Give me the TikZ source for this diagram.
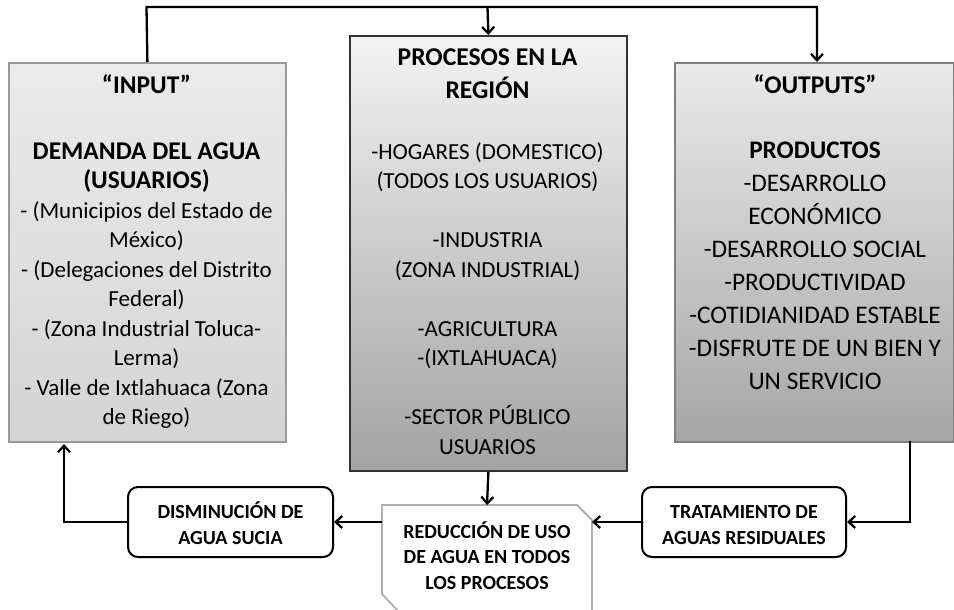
\documentclass[tikz,border=0pt]{standalone}
\usepackage{fontspec}
\setmainfont{Carlito}
\usetikzlibrary{arrows.meta,shadows}
\definecolor{lfillT}{HTML}{EBEBEB}
\definecolor{lfillB}{HTML}{D4D4D4}
\definecolor{lline}{HTML}{9A9A9A}
\definecolor{mfillT}{HTML}{F3F3F3}
\definecolor{mfillB}{HTML}{A3A3A3}
\definecolor{mline}{HTML}{333333}
\definecolor{rfillT}{HTML}{EAEAEA}
\definecolor{rfillB}{HTML}{A6A6A6}
\definecolor{rline}{HTML}{7F7F7F}
\definecolor{pline}{HTML}{B0B0B0}
\newcommand{\bsz}{\fontsize{25.5}{29.4}\selectfont\bfseries}
\newcommand{\rsz}{\fontsize{23}{29.4}\selectfont}
\tikzset{
  x=1pt, y=-1pt,
  bigbox/.style={rectangle, anchor=north west, inner sep=0pt, line width=1.8pt,
    drop shadow={opacity=0.25, shadow xshift=1.2pt, shadow yshift=-1.2pt}},
  txt/.style={align=center, inner sep=0pt, anchor=north},
  bodyfont/.style={font=\fontsize{23}{29.5}\selectfont},
  widefont/.style={font=\fontsize{25.3}{33}\selectfont},
  roundbox/.style={rectangle, rounded corners=10pt, draw=black, fill=white, line width=2pt,
    minimum width=205pt, minimum height=70pt, inner sep=0pt, align=center,
    font=\fontsize{20}{26}\selectfont\bfseries,
    drop shadow={opacity=0.25, shadow xshift=1.2pt, shadow yshift=-1.2pt}},
  conn/.style={line width=2.3pt, -{Straight Barb[length=6.5pt,width=12pt,line width=2.3pt]}}
}
\begin{document}
\begin{tikzpicture}
\useasboundingbox (0,0) rectangle (954,610);
% main boxes
\node[bigbox, draw=lline, top color=lfillT, bottom color=lfillB,
  minimum width=277pt, minimum height=379pt] (inp) at (8,62) {};
\node[bigbox, draw=mline, top color=mfillT, bottom color=mfillB,
  minimum width=277pt, minimum height=435pt] (mid) at (349,35) {};
\node[bigbox, draw=rline, top color=rfillT, bottom color=rfillB,
  minimum width=279pt, minimum height=379pt] (out) at (674,62) {};
% left texts
\node[txt, font=\bsz] (inpT) at (146.5,72.4) {\strut “INPUT”};
\node[txt, bodyfont] (inpB) at (146.5,138.4) {\bsz\strut DEMANDA DEL AGUA\\
  \bsz (USUARIOS)\\
  \rsz - (Municipios del Estado de\\ \rsz México)\\
  \rsz - (Delegaciones del Distrito\\ \rsz Federal)\\
  \rsz - (Zona Industrial Toluca-\\ \rsz Lerma)\\
  \rsz - Valle de Ixtlahuaca (Zona\\ \rsz de Riego)};
% middle texts
\node[txt, font=\fontsize{25.6}{33}\selectfont\bfseries] (midT) at (487.5,41.9) {\strut PROCESOS EN LA\\ REGIÓN};
\node[txt, bodyfont] (midB) at (487.5,138.4) {\strut -HOGARES (DOMESTICO)\\
  (TODOS LOS USUARIOS)\\[29.5pt]
  -INDUSTRIA\\ (ZONA INDUSTRIAL)\\[29.5pt]
  -AGRICULTURA\\ -(IXTLAHUACA)\\[29.5pt]
  -SECTOR PÚBLICO\\ USUARIOS};
% right texts
\node[txt, font=\bsz] (outT) at (815,72.4) {\strut “OUTPUTS”};
\node[txt, widefont] (outB) at (815,135.4) {\strut\bfseries PRODUCTOS\\
  -DESARROLLO\\ ECONÓMICO\\ -DESARROLLO SOCIAL\\ -PRODUCTIVIDAD\\
  -COTIDIANIDAD ESTABLE\\ -DISFRUTE DE UN BIEN Y\\ UN SERVICIO};
% bottom boxes
\node[roundbox] (dis) at (230.5,522) {\strut DISMINUCIÓN DE\\ AGUA SUCIA};
\node[roundbox, minimum width=204pt] (trat) at (744,522) {\strut TRATAMIENTO DE\\ AGUAS RESIDUALES};
% snipped box
\coordinate (p1) at (382,505);
\coordinate (p2) at (577,505);
\coordinate (p3) at (592,520);
\coordinate (p4) at (592,613);
\coordinate (p5) at (400,613);
\coordinate (p6) at (382,594);
\draw[draw=pline, fill=white, line width=1.8pt] (p1) -- (p2) -- (p3) -- (p4) -- (p5) -- (p6) -- cycle;
\node[txt, font=\fontsize{20}{25.8}\selectfont\bfseries] (red) at (487,519.9)
  {\strut REDUCCIÓN DE USO\\ DE AGUA EN TODOS\\ LOS PROCESOS};
% connector anchor points
\coordinate (tl) at (146.5,7);
\coordinate (tm) at (487.5,7);
\coordinate (tr) at (817,7);
\coordinate (outTop) at (817,62);
\coordinate (lb) at (64,444);
\coordinate (redTop) at (487,505);
\coordinate (redL) at (382,522);
\coordinate (redR) at (592,522);
\coordinate (rb) at (910,441);
% connectors
\draw[conn] (inp.north) -- (tl) -- (tr) -- (outTop);
\draw[conn] (tm) -- (mid.north);
\draw[conn] (mid.south) -- (redTop);
\draw[conn] (redL) -- (dis.east);
\draw[conn] (dis.west) -| (lb);
\draw[conn] (trat.west) -- (redR);
\draw[conn] (rb) |- (trat.east);
\end{tikzpicture}
\end{document}
